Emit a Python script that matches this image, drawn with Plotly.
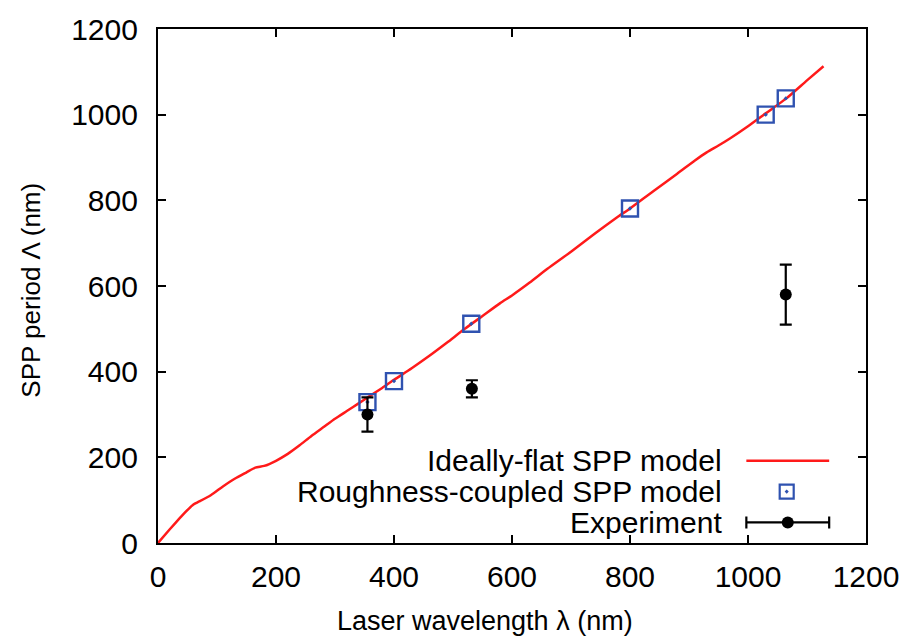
import plotly.graph_objects as go

# Ideally-flat SPP model (red line)
flat_lambda = [0, 20, 40, 60, 70, 90, 110, 130, 150, 165, 180, 200, 220, 240, 260, 280, 300,
               320, 340, 360, 380, 400, 430, 460, 490, 520, 550, 580, 600, 630, 660, 700,
               740, 780, 800, 840, 880, 910, 930, 950, 970, 1000, 1030, 1065, 1100, 1128]
flat_period = [0, 32, 63, 90, 97, 112, 132, 150, 165, 176, 180, 192, 208, 228, 250, 270, 290,
               308, 326, 344, 362, 381, 408, 437, 468, 500, 530, 560, 578, 608, 640, 680,
               722, 762, 781, 822, 862, 893, 912, 928, 945, 973, 1003, 1038, 1080, 1113]

# Roughness-coupled SPP model (blue squares)
rough_lambda = [355, 400, 531, 800, 1030, 1064]
rough_period = [329, 378, 512, 781, 1000, 1038]

# Experiment
exp_lambda = [355, 532, 1064]
exp_period = [300, 360, 580]
exp_err = [40, 20, 70]

legend_labels = ["Ideally-flat SPP model", "Roughness-coupled SPP model", "Experiment"]

FONT = "Liberation Sans, Arial, Helvetica, sans-serif"
RED = "#ff1a1a"
BLUE = "#2f52b0"

fig = go.Figure()
fig.add_trace(go.Scatter(x=flat_lambda, y=flat_period, mode="lines",
                         line=dict(color=RED, width=2.5, shape="spline", smoothing=0.6),
                         showlegend=False))
fig.add_trace(go.Scatter(x=rough_lambda, y=rough_period, mode="markers",
                         marker=dict(symbol="square-open-dot", size=16, color=BLUE,
                                     line=dict(width=2.4, color=BLUE)), showlegend=False))
fig.add_trace(go.Scatter(x=exp_lambda, y=exp_period, mode="markers",
                         marker=dict(symbol="circle", size=12, color="black"),
                         error_y=dict(type="data", array=exp_err, visible=True,
                                      color="black", thickness=2.2, width=6),
                         showlegend=False))

# Legend keys drawn on an overlay axis (0..1 across plot area)
key_rows = [0.160, 0.100, 0.040]
fig.add_trace(go.Scatter(x=[0.831, 0.948], y=[key_rows[0]] * 2, mode="lines",
                         line=dict(color=RED, width=2.5), xaxis="x2", yaxis="y2",
                         showlegend=False, hoverinfo="skip"))
fig.add_trace(go.Scatter(x=[0.888], y=[key_rows[1]], mode="markers",
                         marker=dict(symbol="square-open-dot", size=14, color=BLUE,
                                     line=dict(width=2.2, color=BLUE)),
                         xaxis="x2", yaxis="y2", showlegend=False, hoverinfo="skip"))
fig.add_trace(go.Scatter(x=[0.8895], y=[key_rows[2]], mode="markers",
                         marker=dict(symbol="circle", size=12, color="black"),
                         error_x=dict(type="data", array=[0.0585], visible=True,
                                      color="black", thickness=2.2, width=6),
                         xaxis="x2", yaxis="y2", showlegend=False, hoverinfo="skip"))

annotations = []
for lab, yy in zip(legend_labels, key_rows):
    annotations.append(dict(text=lab, x=0.80, y=yy, xref="paper", yref="paper",
                            xanchor="right", yanchor="middle", showarrow=False,
                            font=dict(family=FONT, size=30, color="black")))
annotations.append(dict(text="Laser wavelength λ (nm)", x=(487 - 158) / 712,
                        y=-(622 - 543) / 518, xref="paper", yref="paper",
                        xanchor="center", yanchor="middle", showarrow=False,
                        font=dict(family=FONT, size=27, color="black")))
annotations.append(dict(text="SPP period Λ (nm)", x=-(158 - 30) / 712, y=(543 - 288) / 518,
                        xref="paper", yref="paper", textangle=-90, showarrow=False,
                        xanchor="center", yanchor="middle",
                        font=dict(family=FONT, size=26, color="black")))

axis_common = dict(showline=True, linecolor="black", linewidth=2.2, mirror="ticks",
                   ticks="inside", ticklen=8, tickwidth=2, tickcolor="black",
                   showgrid=False, zeroline=False,
                   tickfont=dict(family=FONT, size=30, color="black"))

fig.update_layout(
    width=911, height=637,
    margin=dict(l=158, r=41, t=25, b=94),
    paper_bgcolor="white", plot_bgcolor="white",
    xaxis=dict(range=[0, 1200], dtick=200, ticklabelstandoff=6, **axis_common),
    yaxis=dict(range=[0, 1200], dtick=200, ticklabelstandoff=12, **axis_common),
    xaxis2=dict(range=[0, 1], overlaying="x", visible=False, fixedrange=True),
    yaxis2=dict(range=[0, 1], overlaying="y", visible=False, fixedrange=True),
    annotations=annotations,
    showlegend=False,
)

fig.write_html("out.html")
